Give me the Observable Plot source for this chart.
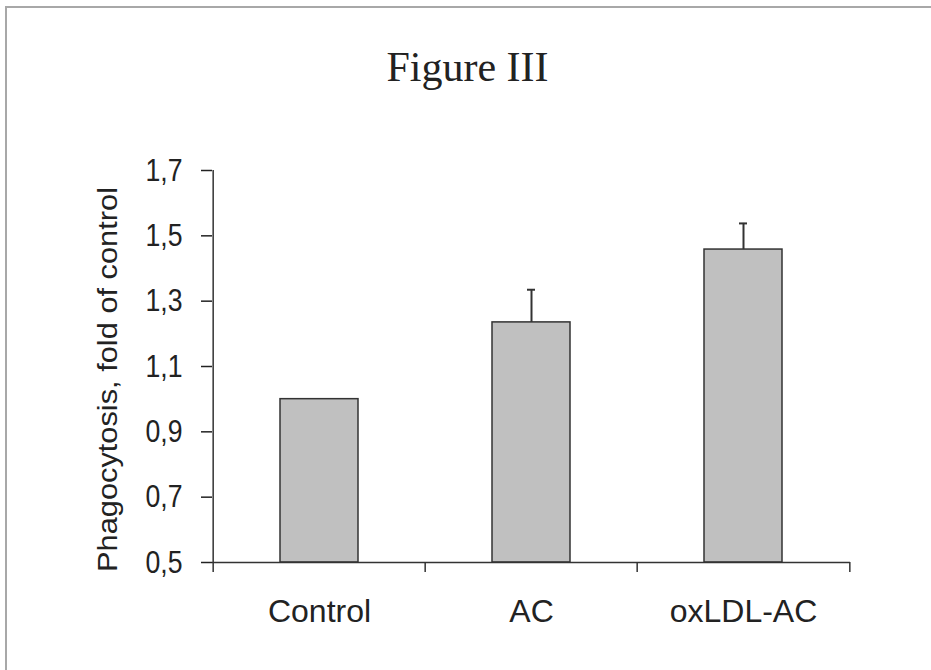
<!DOCTYPE html>
<html><head><meta charset="utf-8">
<script src="https://cdn.jsdelivr.net/npm/d3@7"></script>
<script src="https://cdn.jsdelivr.net/npm/@observablehq/plot@0.6"></script>
<style>
body{margin:0;background:#fff;}
#wrap{position:relative;width:931px;height:670px;overflow:hidden;}
#border{position:absolute;left:5px;top:6px;width:940px;height:680px;border-top:2px solid #a8a8a8;border-left:2px solid #a8a8a8;pointer-events:none;}
</style></head><body><div id="wrap"><div id="border"></div></div>
<script>
const title = "Figure III";
const yLabel = "Phagocytosis, fold of control";
const categories = ["Control", "AC", "oxLDL-AC"];
const means = [1.0, 1.235, 1.458];
const errors = [0, 0.10, 0.08];
const yTicks = [0.5, 0.7, 0.9, 1.1, 1.3, 1.5, 1.7];
const yTickLabels = ["0,5", "0,7", "0,9", "1,1", "1,3", "1,5", "1,7"];

const data = categories.map((c, i) => ({cat: c, mean: means[i], upper: means[i] + errors[i], err: errors[i]}));
const withErr = data.filter(d => d.err > 0);
const sans = "'Liberation Sans',Arial,sans-serif";
const ink = "#333";

const chart = Plot.plot({
  width: 931, height: 670,
  marginTop: 170, marginLeft: 212, marginRight: 81, marginBottom: 98,
  style: {background: "transparent", fontFamily: sans, color: "#222"},
  x: {domain: categories, padding: 0},
  y: {domain: [0.5, 1.7], range: [562, 170]},
  marks: [
    Plot.barY(data, {x: "cat", y1: 0.5, y2: "mean", fill: "#c0c0c0", stroke: ink, strokeWidth: 1.5, insetLeft: 67, insetRight: 67}),
    Plot.ruleX(withErr, {x: "cat", y1: "mean", y2: "upper", stroke: ink, strokeWidth: 2}),
    Plot.tickY(withErr, {x: "cat", y: "upper", stroke: ink, strokeWidth: 2, insetLeft: 102, insetRight: 102}),
    Plot.ruleY([0.5], {stroke: ink, strokeWidth: 1.5}),
    Plot.ruleX([categories[0]], {x: d => d, dx: -106.33, stroke: ink, strokeWidth: 1.5}),
    Plot.ruleX(categories.slice(1), {x: d => d, dx: -106.33, insetTop: 392, stroke: ink, strokeWidth: 1.5}),
    Plot.ruleX([categories[categories.length - 1]], {x: d => d, dx: 106.33, insetTop: 392, stroke: ink, strokeWidth: 1.5}),
    Plot.axisY({ticks: yTicks, tickFormat: d => yTickLabels[yTicks.indexOf(d)], tickSize: 11, tickPadding: 19, fontSize: 32, label: null, strokeWidth: 1.5}),
    Plot.axisX({tickSize: 0, tickPadding: 27, fontSize: 32, label: null}),
    Plot.text([title], {frameAnchor: "top", lineAnchor: "bottom", dx: -64, dy: -90, fontSize: 42, fontFamily: "'Liberation Serif','Times New Roman',serif", fill: "#222"}),
    Plot.text([yLabel], {frameAnchor: "left", textAnchor: "middle", rotate: -90, dx: -104, dy: 8, fontSize: 27, fontFamily: sans, fill: "#222"})
  ]
});
document.getElementById("wrap").prepend(chart);
// condense / stretch glyphs to match the reference's distorted lettering
d3.select(chart).selectAll('g[aria-label="y-axis tick label"] text')
  .attr("textLength", 37).attr("lengthAdjust", "spacingAndGlyphs");
d3.select(chart).selectAll("text")
  .filter(function() { return this.textContent === yLabel; })
  .attr("textLength", 385).attr("lengthAdjust", "spacingAndGlyphs");
</script>
</body></html>
